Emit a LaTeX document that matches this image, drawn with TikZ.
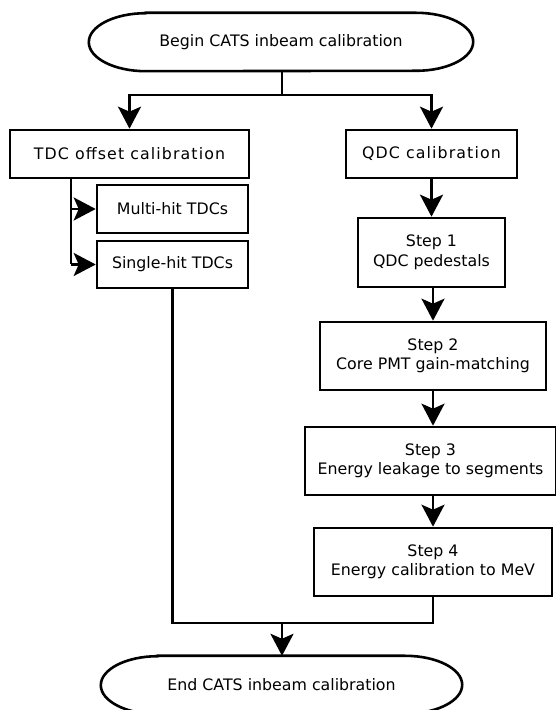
\documentclass[tikz,border=0pt]{standalone}
\usepackage{fontspec}
\setmainfont{DejaVu Sans}
\newfontfamily\spacedfont[LetterSpace=7]{DejaVu Sans}
\usetikzlibrary{arrows.meta}
\begin{document}
\begin{tikzpicture}[x=1pt,y=1pt,
  every node/.style={font=\fontsize{15.8}{19.5}\selectfont, inner sep=0pt, align=center},
  box/.style={draw, line width=2.6pt, rectangle},
  term/.style={rectangle, draw=none},
  conn/.style={line width=2.6pt},
  arr/.style={conn, -{Stealth[length=22pt,width=23pt,inset=5pt]}}]
\fill[white] (0,0) rectangle (556,710);
\useasboundingbox (0,0) rectangle (556,710);

% terminals
\node[term, minimum width=384pt, minimum height=58pt] (begin) at (281,668) {Begin CATS inbeam calibration};
\node[term, minimum width=361pt, minimum height=58pt] (end) at (281.5,25) {End CATS inbeam calibration};
\foreach \n in {begin,end}{
  \draw[conn] ([xshift=57pt]\n.north west) -- ([xshift=-57pt]\n.north east)
    arc[start angle=90,end angle=-90,x radius=57pt,y radius=29pt]
    -- ([xshift=57pt]\n.south west)
    arc[start angle=270,end angle=90,x radius=57pt,y radius=29pt] -- cycle;
}

% boxes
\node[box, minimum width=239pt, minimum height=48pt] (tdc) at (129.5,556) {\spacedfont TDC offset calibration};
\node[box, minimum width=171pt, minimum height=48pt] (qdc) at (431.5,556) {\spacedfont QDC calibration};
\node[box, minimum width=151pt, minimum height=48pt] (multi) at (172.5,501) {Multi-hit TDCs};
\node[box, minimum width=151pt, minimum height=47pt] (single) at (172.5,445.5) {Single-hit TDCs};
\node[box, minimum width=147pt, minimum height=69pt] (s1) at (431.5,457.5) {Step 1\\QDC pedestals};
\node[box, minimum width=226pt, minimum height=68pt] (s2) at (433,354) {Step 2\\Core PMT gain-matching};
\node[box, minimum width=251pt, minimum height=68pt] (s3) at (430.5,249) {Step 3\\Energy leakage to segments};
\node[box, minimum width=238pt, minimum height=68pt] (s4) at (433,148) {Step 4\\Energy calibration to MeV};

% connectors
\coordinate (split) at (282,615);
\coordinate (tdcdown) at (71,532);
\coordinate (join) at (282,87);
\draw[conn] (begin.south -| split) -- (split);
\draw[arr] (split) -| (tdc.north);
\draw[arr] (split) -| (qdc.north);
\draw[conn] (tdcdown) -- (tdcdown |- single.west);
\draw[arr] (tdcdown |- multi.west) -- (multi.west);
\draw[arr] (tdcdown |- single.west) -- (single.west);
\draw[arr] (qdc.south) -- (s1.north);
\draw[arr] (s1.south -| s2.south) -- (s2.north);
\draw[arr] (s2.south) -- (s2.south |- s3.north);
\draw[arr] (s3.south -| s4.north) -- (s4.north);
\draw[conn] (single.south) |- (join) -| (s4.south);
\draw[arr] (join) -- (join |- end.north);
\end{tikzpicture}
\end{document}
